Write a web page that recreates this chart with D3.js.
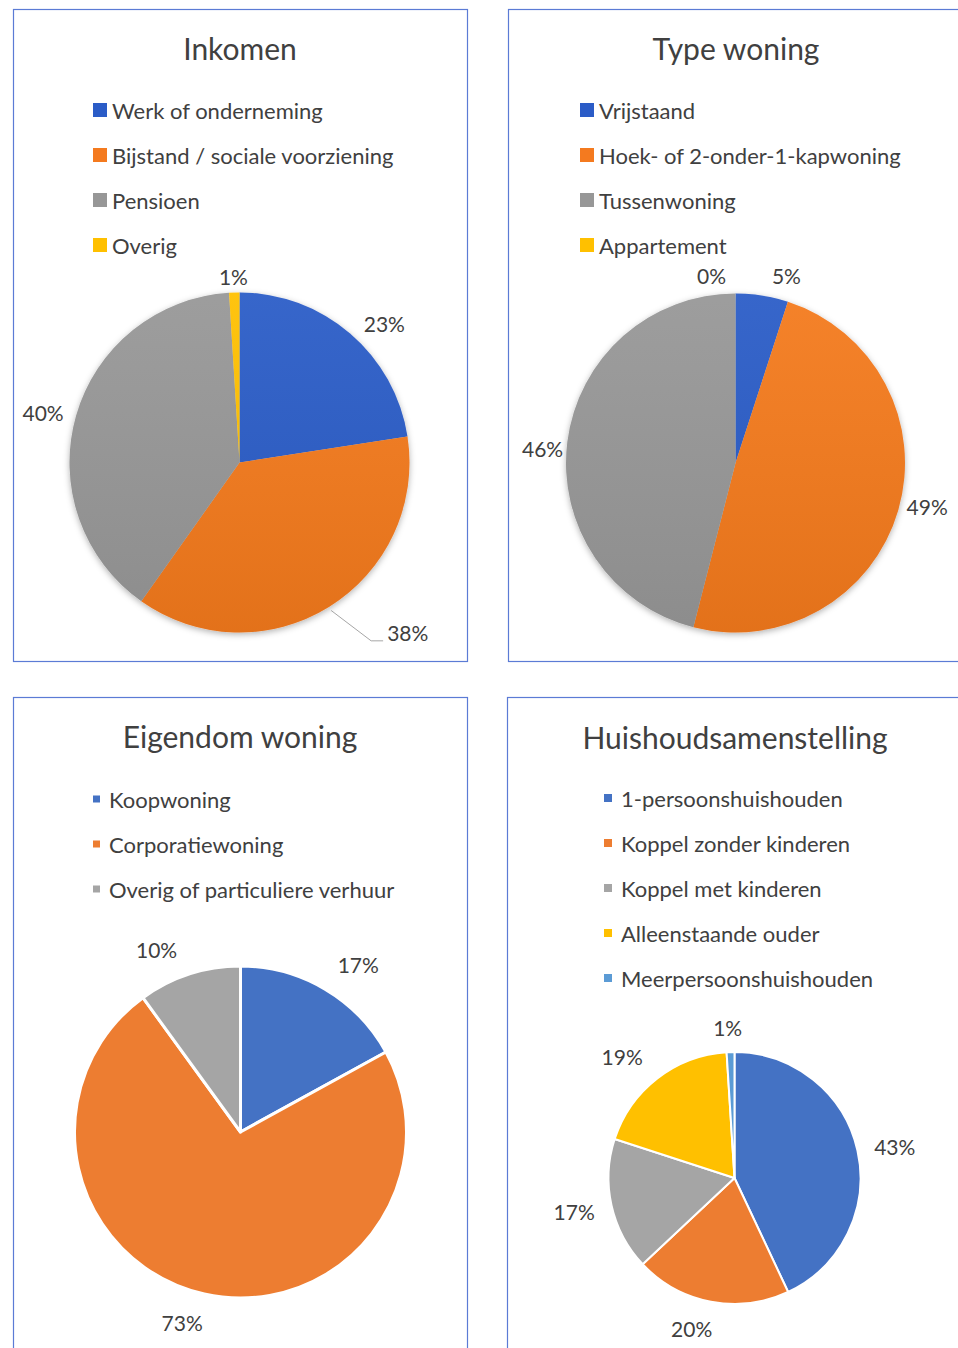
<!DOCTYPE html>
<html>
<head>
<meta charset="utf-8">
<script src="https://cdn.jsdelivr.net/npm/d3@7"></script>
<style>
	body { margin: 0; background: #fff; }
	svg text { font-family: Lato, 'Open Sans', sans-serif; fill: #404040; }
</style>
</head>
<body>
<svg id="scene" width="958" height="1348"></svg>
<script>
// Data
const inkomenCategories = ['Werk of onderneming', 'Bijstand / sociale voorziening', 'Pensioen', 'Overig'];
const inkomenValues = [23, 38, 40, 1];

const typeCategories = ['Vrijstaand', 'Hoek- of 2-onder-1-kapwoning', 'Tussenwoning', 'Appartement'];
const typeValues = [5, 49, 46, 0];

const eigendomCategories = ['Koopwoning', 'Corporatiewoning', 'Overig of particuliere verhuur'];
const eigendomValues = [17, 73, 10];

const huishoudenCategories = ['1-persoonshuishouden', 'Koppel zonder kinderen', 'Koppel met kinderen', 'Alleenstaande ouder', 'Meerpersoonshuishouden'];
const huishoudenValues = [43, 20, 17, 19, 1];

const topColors = ['#2b5cc7', '#f47a1f', '#979797', '#ffc000'];
const bottomColors = ['#4472c4', '#ed7d31', '#a5a5a5', '#ffc000', '#5b9bd5'];

const svg = d3.select('svg#scene');
const defs = svg.append('defs');

// soft shadow like the old Excel charts
const shadow = defs.append('filter').attr('id', 'softShadow')
	.attr('x', '-20%').attr('y', '-20%').attr('width', '140%').attr('height', '140%');
shadow.append('feDropShadow').attr('dx', 0).attr('dy', 2).attr('stdDeviation', 3)
	.attr('flood-color', '#000').attr('flood-opacity', 0.3);

const shade = defs.append('linearGradient').attr('id', 'shade')
	.attr('x1', 0).attr('y1', 0).attr('x2', 0).attr('y2', 1);
shade.append('stop').attr('offset', '0%').attr('stop-color', '#fff').attr('stop-opacity', 0.06);
shade.append('stop').attr('offset', '100%').attr('stop-color', '#000').attr('stop-opacity', 0.07);

const panels = [
	{
		title: 'Inkomen', categories: inkomenCategories, values: inkomenValues, colors: topColors,
		box: [13, 9, 467, 661], titleX: 240, titleY: 60,
		legend: { x: 93, y: 110, step: 45, size: 14, textX: 112 },
		center: [239.5, 462.5], r: 170, stroke: 0, shaded: true,
		nudges: [[16, 11], [64, 2], [-6, 4], [0, 12]], leader: [false, true, false, false],
	},
	{
		title: 'Type woning', categories: typeCategories, values: typeValues, colors: topColors,
		box: [508, 9, 962, 661], titleX: 736, titleY: 60,
		legend: { x: 580, y: 110, step: 45, size: 14, textX: 599 },
		center: [735.5, 463], r: 169.5, stroke: 0, shaded: true,
		nudges: [[20, 8], [2, -12], [3, 10], [-24, 10]], leader: [],
	},
	{
		title: 'Eigendom woning', categories: eigendomCategories, values: eigendomValues, colors: bottomColors,
		box: [13, 697, 467, 1360], titleX: 240, titleY: 748,
		legend: { x: 93, y: 799, step: 45, size: 7, textX: 109 },
		center: [240.5, 1132], r: 166, stroke: 3, shaded: false,
		nudges: [[19, -1], [-16, 1], [-24, 2]], leader: [],
	},
	{
		title: 'Huishoudsamenstelling', categories: huishoudenCategories, values: huishoudenValues, colors: bottomColors,
		box: [507, 697, 962, 1360], titleX: 735, titleY: 749,
		legend: { x: 604, y: 798, step: 45, size: 8, textX: 621 },
		center: [734.5, 1178], r: 126, stroke: 2, shaded: false,
		nudges: [[10, 2], [-14, -1], [-10, 0], [-18, 0], [-2, 3]], leader: [],
	},
];

panels.forEach((p) => {
	const g = svg.append('g');

	// panel frame
	g.append('rect')
		.attr('x', p.box[0] + 0.5).attr('y', p.box[1] + 0.5)
		.attr('width', p.box[2] - p.box[0]).attr('height', p.box[3] - p.box[1])
		.attr('fill', '#fff').attr('stroke', '#5b7bd5').attr('stroke-width', 1.2);

	g.append('text').text(p.title)
		.attr('x', p.titleX).attr('y', p.titleY)
		.attr('text-anchor', 'middle').style('font-size', '30px');

	const color = d3.scaleOrdinal().domain(p.categories).range(p.colors);

	// legend
	const rows = g.selectAll('g.legend').data(p.categories).enter().append('g').classed('legend', true)
		.attr('transform', (d, i) => `translate(0,${p.legend.y + i * p.legend.step})`);
	rows.append('rect')
		.attr('x', p.legend.x).attr('y', -p.legend.size / 2)
		.attr('width', p.legend.size).attr('height', p.legend.size)
		.attr('fill', d => color(d));
	rows.append('text').text(d => d)
		.attr('x', p.legend.textX).attr('y', 0)
		.attr('dominant-baseline', 'central').style('font-size', '22px');

	// pie
	const data = p.categories.map((c, i) => ({ category: c, value: p.values[i], index: i }));
	const arcs = d3.pie().sort(null).value(d => d.value)(data);
	const arc = d3.arc().innerRadius(0).outerRadius(p.r);
	const labelArc = d3.arc().innerRadius(p.r + 28).outerRadius(p.r + 28);
	const edgeArc = d3.arc().innerRadius(p.r + 4).outerRadius(p.r + 4);

	const pie = g.append('g').attr('transform', `translate(${p.center[0]},${p.center[1]})`);
	const slices = pie.append('g');
	if (p.shaded) slices.attr('filter', 'url(#softShadow)');
	slices.selectAll('path').data(arcs).enter().append('path')
		.attr('d', arc)
		.attr('fill', d => color(d.data.category))
		.attr('stroke', p.stroke ? '#fff' : 'none')
		.attr('stroke-width', p.stroke)
		.attr('stroke-linejoin', 'round');
	if (p.shaded) {
		pie.append('circle').attr('r', p.r).attr('fill', 'url(#shade)');
	}

	// data labels
	arcs.forEach((d) => {
		const [lx, ly] = labelArc.centroid(d);
		const [nx, ny] = p.nudges[d.index] || [0, 0];
		const x = lx + nx;
		const y = ly + ny;
		const label = pie.append('text').text(d.data.value + '%')
			.attr('x', x).attr('y', y)
			.attr('text-anchor', 'middle').attr('dominant-baseline', 'central')
			.style('font-size', '21px');
		if (p.leader[d.index]) {
			const w = label.node().getComputedTextLength();
			const [sx, sy] = edgeArc.centroid(d);
			const ex = x - w / 2 - 4;
			pie.append('path')
				.attr('d', d3.line()([[sx, sy], [ex - 12, y + 8], [ex, y + 8]]))
				.attr('fill', 'none').attr('stroke', '#a6a6a6').attr('stroke-width', 1);
		}
	});
});
</script>
</body>
</html>
